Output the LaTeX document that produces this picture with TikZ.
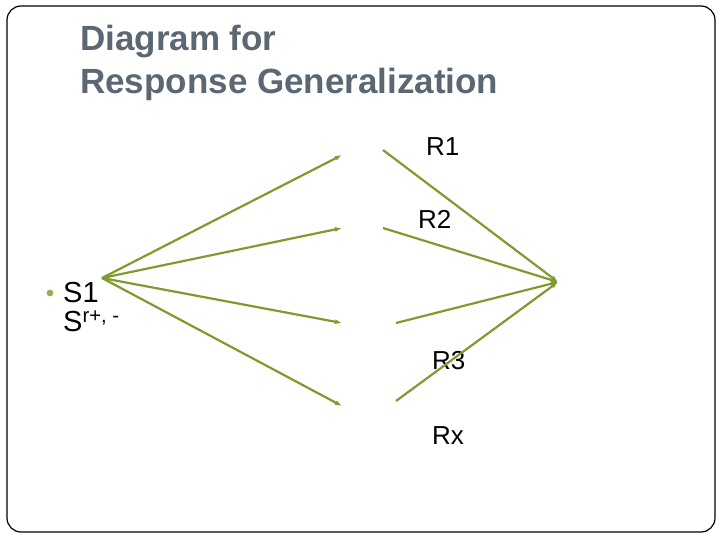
\documentclass[tikz,border=0pt]{standalone}
\usepackage{fontspec}
\setmainfont{Liberation Sans}
\begin{document}
\begin{tikzpicture}[x=1pt,y=-1pt,
  ln/.style={draw=arr,line width=2.2pt,-{Latex[length=7pt,width=5pt]}},
  lab/.style={font=\fontsize{26}{30}\selectfont,anchor=west,inner sep=0}]
\usetikzlibrary{arrows.meta}
\definecolor{arr}{HTML}{7F9A2E}
\definecolor{tt}{HTML}{5B6874}
\useasboundingbox (0,0) rectangle (720,540);
\draw[line width=1.2pt,rounded corners=14pt] (7,6) rectangle (715,532);
\node[anchor=west,inner sep=0,text=tt,font=\bfseries\fontsize{35}{40}\selectfont] (t1) at (80,42) {Diagram for};
\node[anchor=west,inner sep=0,text=tt,font=\bfseries\fontsize{35}{40}\selectfont] (t2) at (80,84) {Response Generalization};
\node[circle,fill=arr!80,inner sep=2.4pt] (b) at (50,293) {};
\node[lab,font=\fontsize{29}{32}\selectfont] (s1) at (63,293) {S1};
\node[lab,font=\fontsize{29}{32}\selectfont] (s2) at (63,321) {S\textsuperscript{r+, -}};
\node[lab] (r1) at (426,147) {R1};
\node[lab] (r2) at (418,219) {R2};
\node[lab] (r3) at (432,361) {R3};
\node[lab] (rx) at (432,436) {Rx};
\coordinate (S) at (102,278);
\coordinate (a1) at (342,155);
\coordinate (a2) at (342,228);
\coordinate (a3) at (342,323);
\coordinate (a4) at (342,406);
\coordinate (b1) at (383,150);
\coordinate (b2) at (383,228);
\coordinate (b3) at (396,323);
\coordinate (b4) at (396,401);
\coordinate (T) at (558,282);
\foreach \p in {a1,a2,a3,a4} \draw[ln] (S) -- (\p);
\foreach \p in {b1,b2,b3,b4} \draw[ln] (\p) -- (T);
\end{tikzpicture}
\end{document}
